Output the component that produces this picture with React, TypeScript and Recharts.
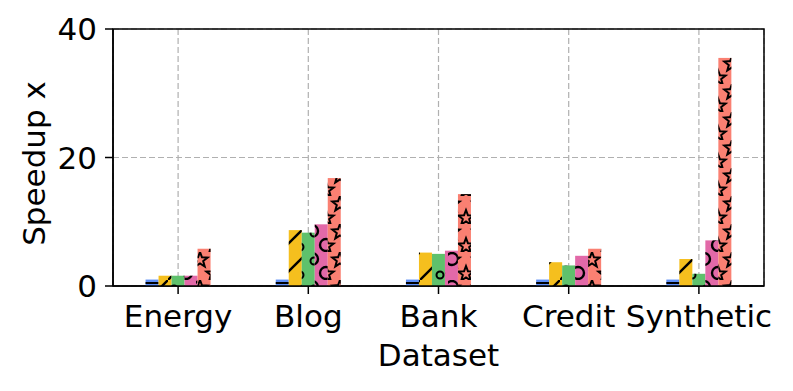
import React from 'react';
import { BarChart, Bar, XAxis, YAxis, CartesianGrid, ReferenceArea } from 'recharts';

const categories = ['Energy', 'Blog', 'Bank', 'Credit', 'Synthetic'];
const blueVals = [1.0, 1.0, 1.0, 1.0, 1.0];
const yellowVals = [1.6, 8.7, 5.2, 3.7, 4.2];
const greenVals = [1.6, 8.3, 5.0, 3.2, 1.9];
const pinkVals = [1.6, 9.6, 5.5, 4.7, 7.1];
const salmonVals = [5.8, 16.8, 14.3, 5.8, 35.5];
const yTicks = [0, 20, 40];

const data = categories.map((name, i) => ({
    name,
    blue: blueVals[i],
    yellow: yellowVals[i],
    green: greenVals[i],
    pink: pinkVals[i],
    salmon: salmonVals[i],
}));

const FONT = 'DejaVu Sans';
const FS = 31;

const starPath = (cx: number, cy: number, r: number) => {
    const pts: string[] = [];
    for (let k = 0; k < 10; k++) {
        const rad = k % 2 === 0 ? r : r * 0.42;
        const a = -Math.PI / 2 + (k * Math.PI) / 5;
        pts.push(`${(cx + rad * Math.cos(a)).toFixed(2)},${(cy + rad * Math.sin(a)).toFixed(2)}`);
    }
    return 'M' + pts.join('L') + 'Z';
};

// hatch fills, tiled in page space like matplotlib does
const Patterns = () => (
    <svg width={0} height={0} style={{ position: 'absolute' }}>
        <defs>
            <pattern id="hDash" patternUnits="userSpaceOnUse" width={28} height={28}>
                <line x1={0} y1={3} x2={28} y2={3} stroke="#000" strokeWidth={2} />
            </pattern>
            <pattern id="hSlash" patternUnits="userSpaceOnUse" width={28} height={28}>
                <line x1={-2} y1={30} x2={30} y2={-2} stroke="#000" strokeWidth={2.4} />
            </pattern>
            <pattern id="hSmallO" patternUnits="userSpaceOnUse" width={28} height={28}>
                <circle cx={6} cy={9} r={3.5} fill="none" stroke="#000" strokeWidth={2} />
                <circle cx={20} cy={23} r={3.5} fill="none" stroke="#000" strokeWidth={2} />
            </pattern>
            <pattern id="hBigO" patternUnits="userSpaceOnUse" width={28} height={28}>
                <circle cx={4} cy={7} r={6} fill="none" stroke="#000" strokeWidth={2.4} />
                <circle cx={18} cy={21} r={6} fill="none" stroke="#000" strokeWidth={2.4} />
            </pattern>
            <pattern id="hStar" patternUnits="userSpaceOnUse" width={28} height={28}>
                <path d={starPath(4, 8, 8)} fill="none" stroke="#000" strokeWidth={2} />
                <path d={starPath(18, 22, 8)} fill="none" stroke="#000" strokeWidth={2} />
                <path d={starPath(32, 8, 8)} fill="none" stroke="#000" strokeWidth={2} />
                <path d={starPath(-10, 22, 8)} fill="none" stroke="#000" strokeWidth={2} />
            </pattern>
        </defs>
    </svg>
);

const hatched = (patternId: string) => (props: any) => {
    const { x, y, width, height, fill } = props;
    if (!height || height <= 0) return <g />;
    return (
        <g>
            <rect x={x} y={y} width={width} height={height} fill={fill} />
            <rect x={x} y={y} width={width} height={height} fill={`url(#${patternId})`} />
        </g>
    );
};

const series = [
    { key: 'blue', color: '#5d8ef5', pat: 'hDash' },
    { key: 'yellow', color: '#f5bf1e', pat: 'hSlash' },
    { key: 'green', color: '#5fc16c', pat: 'hSmallO' },
    { key: 'pink', color: '#e269a8', pat: 'hBigO' },
    { key: 'salmon', color: '#fa8072', pat: 'hStar' },
];

const App = () => (
    <div style={{ position: 'absolute', left: 0, top: 0, width: 793, height: 391, background: '#fff' }}>
        <Patterns />
        <BarChart
            width={793}
            height={391}
            data={data}
            margin={{ top: 29, right: 29, left: 0, bottom: 0 }}
            barCategoryGap="25%"
            barGap={0}
        >
            <CartesianGrid stroke="#b0b0b0" strokeDasharray="6 3" strokeWidth={1.2} />
            <XAxis
                dataKey="name"
                height={105}
                tickSize={8}
                tickMargin={11}
                interval={0}
                tick={{ fontSize: FS, fill: '#000', fontFamily: FONT }}
                axisLine={{ stroke: '#000', strokeWidth: 1.5 }}
                tickLine={{ stroke: '#000', strokeWidth: 1.5 }}
                label={{ value: 'Dataset', position: 'insideBottom', offset: 25, fontSize: FS, fill: '#000', fontFamily: FONT }}
            />
            <YAxis
                domain={[0, 40]}
                ticks={yTicks}
                width={113}
                tickSize={8}
                tickMargin={8}
                tick={{ fontSize: FS, fill: '#000', fontFamily: FONT }}
                axisLine={{ stroke: '#000', strokeWidth: 1.5 }}
                tickLine={{ stroke: '#000', strokeWidth: 1.5 }}
                label={{ value: 'Speedup x', angle: -90, position: 'insideLeft', offset: 34, dy: 6, fontSize: FS, fill: '#000', fontFamily: FONT, style: { textAnchor: 'middle' } }}
            />
            {series.map(s => (
                <Bar key={s.key} dataKey={s.key} fill={s.color} isAnimationActive={false} shape={hatched(s.pat)} />
            ))}
            <ReferenceArea y1={0} y2={40} fill="none" stroke="#000" strokeWidth={1.5} fillOpacity={0} />
        </BarChart>
    </div>
);

export default App;
